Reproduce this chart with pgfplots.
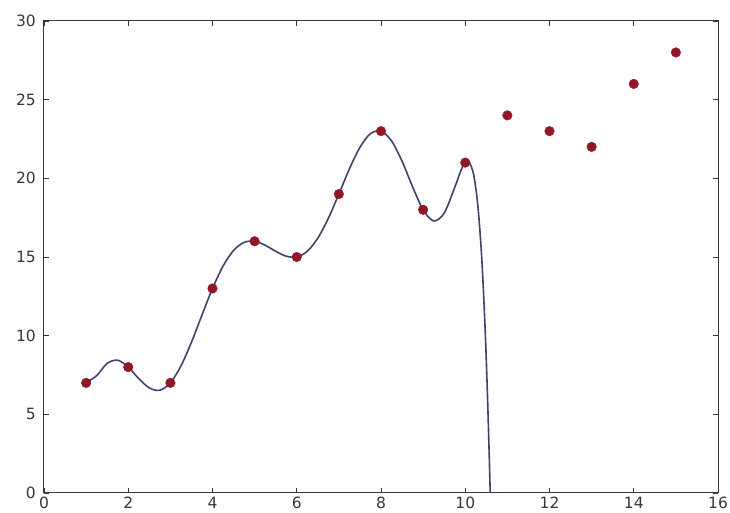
\documentclass[border=0pt]{standalone}
\usepackage{pgfplots}
\pgfplotsset{compat=1.18}
\usepackage{fontspec}
\setmainfont{DejaVu Sans}
\definecolor{ptred}{RGB}{145,22,40}
\definecolor{curveblue}{RGB}{65,65,110}
\definecolor{framegray}{RGB}{55,55,55}
\begin{document}
\begin{tikzpicture}
\begin{axis}[
  scale only axis, width=674pt, height=472pt,
  xmin=0, xmax=16, ymin=0, ymax=30,
  xtick={0,2,...,16}, ytick={0,5,...,30},
  tick align=inside, tick pos=both,
  major tick length=5pt,
  axis line style={framegray, line width=1pt},
  every tick/.style={framegray, line width=0.8pt},
  /pgf/number format/assume math mode=true,
  ticklabel style={font=\fontsize{15.5}{18}\selectfont, text=framegray},
  xticklabel style={inner sep=0pt, yshift=-4pt},
  yticklabel style={inner sep=0pt, xshift=-8pt},
]
\addplot[curveblue, line width=1.6pt, smooth] coordinates {
(1,7) (1.25,7.46) (1.5,8.24) (1.75,8.44) (2,8) (2.25,7.27) (2.5,6.68) (2.75,6.53)
(3,7) (3.25,8.07) (3.5,9.58) (3.75,11.31) (4,13) (4.25,14.42) (4.5,15.42) (4.75,15.93)
(5,16) (5.25,15.75) (5.5,15.36) (5.75,15.05) (6,15) (6.25,15.36) (6.5,16.20) (6.75,17.46)
(7,19) (7.25,20.60) (7.5,21.97) (7.75,22.84) (8,23) (8.25,22.38) (8.5,21.09) (8.75,19.46)
(9,18) (9.25,17.29) (9.5,17.79) (9.75,19.42) (9.9,20.52) (10,21) (10.05,21.08) (10.1,21.01)
(10.2,20.23) (10.3,18.24) (10.4,14.53) (10.5,8.44) (10.6,-0.83) (10.7,-14.2)
};
\addplot[only marks, mark=*, mark size=4.8pt, mark options={draw=ptred, fill=ptred}] coordinates {
(1,7) (2,8) (3,7) (4,13) (5,16) (6,15) (7,19) (8,23) (9,18) (10,21)
(11,24) (12,23) (13,22) (14,26) (15,28)
};
\end{axis}
\pgfresetboundingbox
\path ([shift={(-44pt,-20pt)}]current axis.south west) rectangle ([shift={(12pt,21pt)}]current axis.north east);
\end{tikzpicture}
\end{document}
